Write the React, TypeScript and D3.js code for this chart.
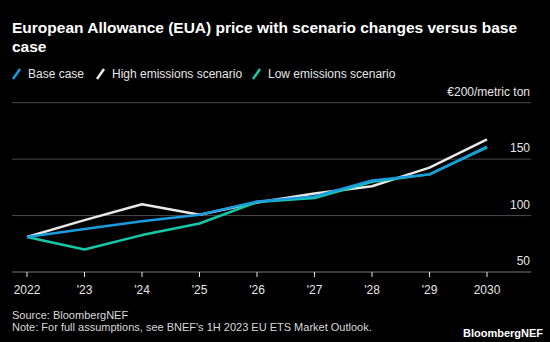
import React from "react";
import * as d3 from "d3";

const years = ["2022", "'23", "'24", "'25", "'26", "'27", "'28", "'29", "2030"];
const baseCase = [81, 88, 95, 100.7, 112.5, 117, 131, 136.5, 161];
const highEmissions = [81, 96, 110, 100.7, 111.5, 119.5, 126, 142.5, 167.5];
const lowEmissions = [81, 70, 82.7, 93, 112, 115.5, 130, 136.5, 160.5];
const yTicks = [50, 100, 150, 200];

const seriesNames = ["Base case", "High emissions scenario", "Low emissions scenario"];
const seriesColors = ["#1a9be0", "#e8e8e8", "#14c9a8"];

const W = 550;
const H = 342;
const FONT = "'Liberation Sans', Arial, sans-serif";

export default function App() {
  const x = d3.scalePoint<string>().domain(years).range([27, 487]);
  const y = d3.scaleLinear().domain([50, 200]).range([272, 102.7]);
  const line = d3
    .line<number>()
    .x((_, i) => x(years[i]) as number)
    .y((d) => y(d));

  const data = [baseCase, highEmissions, lowEmissions];
  const drawOrder = [1, 2, 0];
  const legendX = [12, 96, 252];

  return (
    <svg
      width={W}
      height={H}
      style={{ position: "absolute", left: 0, top: 0, background: "#000", display: "block" }}
      fontFamily={FONT}
    >
      <rect x={0} y={0} width={W} height={H} fill="#000" />
      <text x={12} y={33} fill="#fff" fontSize={15.5} fontWeight="bold">
        European Allowance (EUA) price with scenario changes versus base
      </text>
      <text x={12} y={52} fill="#fff" fontSize={15.5} fontWeight="bold">
        case
      </text>
      {seriesNames.map((n, i) => (
        <g key={n}>
          <line
            x1={legendX[i] + 1}
            y1={79}
            x2={legendX[i] + 8}
            y2={69}
            stroke={seriesColors[i]}
            strokeWidth={2.5}
          />
          <text x={legendX[i] + 16} y={78} fill="#e6e6e6" fontSize={12}>
            {n}
          </text>
        </g>
      ))}
      {yTicks.map((t) => (
        <g key={t}>
          <line
            x1={12}
            x2={531}
            y1={y(t)}
            y2={y(t)}
            stroke={t === 50 ? "#7a7a7a" : "#4a4a4a"}
            strokeWidth={1}
          />
          <text x={530} y={y(t) - 7} textAnchor="end" fill="#e6e6e6" fontSize={12}>
            {t === 200 ? "€200/metric ton" : t}
          </text>
        </g>
      ))}
      {years.map((yr) => (
        <g key={yr}>
          <line
            x1={x(yr)}
            x2={x(yr)}
            y1={272}
            y2={277}
            stroke="#e6e6e6"
            strokeWidth={1}
          />
          <text x={x(yr)} y={294} textAnchor="middle" fill="#e6e6e6" fontSize={12}>
            {yr}
          </text>
        </g>
      ))}
      {drawOrder.map((i) => (
        <path
          key={i}
          d={line(data[i]) || ""}
          fill="none"
          stroke={seriesColors[i]}
          strokeWidth={2.5}
          strokeLinejoin="round"
        />
      ))}
      <text x={12} y={319} fill="#d9d9d9" fontSize={11}>
        Source: BloombergNEF
      </text>
      <text x={12} y={331} fill="#d9d9d9" fontSize={11}>
        Note: For full assumptions, see BNEF's 1H 2023 EU ETS Market Outlook.
      </text>
      <text x={543} y={337} textAnchor="end" fill="#fff" fontSize={11} fontWeight="bold">
        BloombergNEF
      </text>
    </svg>
  );
}
